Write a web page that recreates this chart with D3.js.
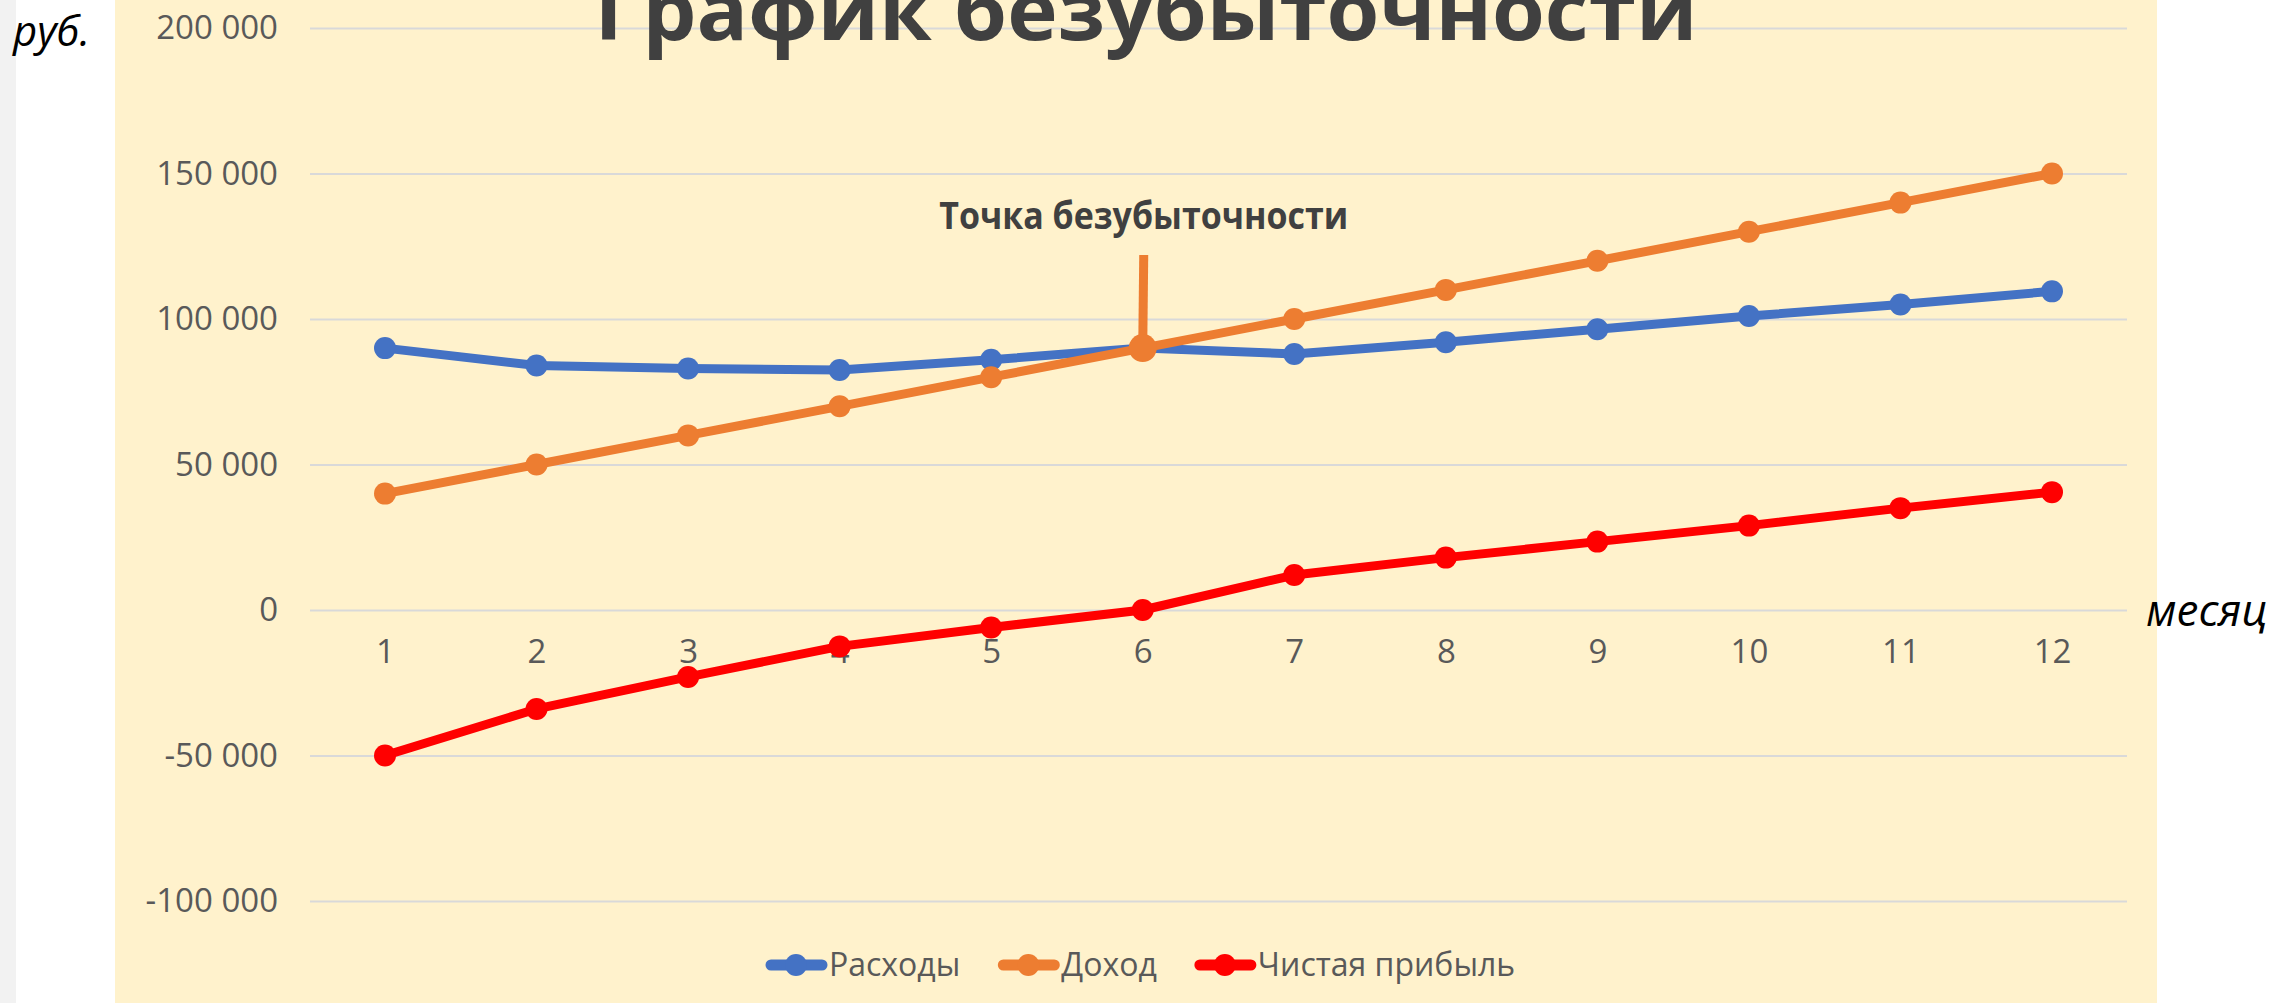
<!DOCTYPE html>
<html>
<head>
<meta charset="utf-8">
<script src="https://cdn.jsdelivr.net/npm/d3@7"></script>
<style>
  html, body { margin: 0; padding: 0; background: #ffffff; }
  svg { display: block; }
</style>
</head>
<body>
<script>
// данные
const months = [1, 2, 3, 4, 5, 6, 7, 8, 9, 10, 11, 12];
const expenses = [90000, 84000, 83000, 82500, 86000, 90000, 88000, 92000, 96500, 101000, 105000, 109500];
const income = [40000, 50000, 60000, 70000, 80000, 90000, 100000, 110000, 120000, 130000, 140000, 150000];
const profit = [-50000, -34000, -23000, -12500, -6000, 0, 12000, 18000, 23500, 29000, 35000, 40500];
const yTicks = [-100000, -50000, 0, 50000, 100000, 150000, 200000];
const seriesNames = ["Расходы", "Доход", "Чистая прибыль"];
const seriesColors = ["#4472c4", "#ed7d31", "#ff0000"];
const breakEvenMonth = 6;

const width = 2275;
const height = 1003;
const font = "'Open Sans', 'Noto Sans', sans-serif";

const svg = d3.select("body").append("svg")
    .attr("width", width)
    .attr("height", height);

// фон
svg.append("rect").attr("x", 0).attr("y", 0).attr("width", 16).attr("height", height).attr("fill", "#f2f2f2");
svg.append("rect").attr("x", 115).attr("y", 0).attr("width", 2157 - 115).attr("height", height).attr("fill", "#fff2cc");

const plotLeft = 310;
const plotRight = 2127;

const xScale = d3.scalePoint()
    .domain(months)
    .range([385, 2052]);

const yScale = d3.scaleLinear()
    .domain([-100000, 200000])
    .range([901, 28]);

const ru = d3.formatLocale({ decimal: ",", thousands: " ", grouping: [3], currency: ["", " руб."], minus: "-" });
const fmt = ru.format(",d");

// ось Y + сетка
const yAxis = svg.append("g")
    .attr("transform", "translate(" + plotLeft + ",0)")
    .call(d3.axisLeft(yScale)
        .tickValues(yTicks)
        .tickFormat(fmt)
        .tickSizeInner(-(plotRight - plotLeft))
        .tickSizeOuter(0)
        .tickPadding(32));
yAxis.select(".domain").remove();
yAxis.selectAll("line").attr("stroke", "#d9d9d9").attr("stroke-width", 2);
yAxis.selectAll("text")
    .attr("font-family", font)
    .attr("font-size", "33px")
    .attr("fill", "#595959");

// ось X
const xAxis = svg.append("g")
    .attr("transform", "translate(0," + yScale(0) + ")")
    .call(d3.axisBottom(xScale).tickSize(0).tickPadding(30));
xAxis.select(".domain").remove();
xAxis.selectAll("text")
    .attr("font-family", font)
    .attr("font-size", "33px")
    .attr("fill", "#595959");

// заголовок (в оригинале обрезан сверху)
svg.append("text")
    .attr("x", 1146)
    .attr("y", 40)
    .attr("text-anchor", "middle")
    .attr("font-family", font)
    .attr("font-weight", "bold")
    .attr("font-size", "82px")
    .attr("fill", "#404040")
    .attr("textLength", 1103)
    .attr("lengthAdjust", "spacingAndGlyphs")
    .text("График безубыточности");

// подписи осей
svg.append("text")
    .attr("x", 13)
    .attr("y", 46)
    .attr("font-family", font)
    .attr("font-style", "italic")
    .attr("font-size", "42px")
    .attr("fill", "#000000")
    .text("руб.");

svg.append("text")
    .attr("x", 2146)
    .attr("y", 626)
    .attr("font-family", font)
    .attr("font-style", "italic")
    .attr("font-size", "44px")
    .attr("fill", "#000000")
    .text("месяц");

// линии
const allSeries = [expenses, income, profit];
const line = d3.line()
    .x((d, i) => xScale(months[i]))
    .y(d => yScale(d));

// выноска точки безубыточности
const beIdx = months.indexOf(breakEvenMonth);
svg.append("line")
    .attr("x1", xScale(breakEvenMonth) + 1)
    .attr("y1", 255)
    .attr("x2", xScale(breakEvenMonth))
    .attr("y2", yScale(income[beIdx]))
    .attr("stroke", seriesColors[1])
    .attr("stroke-width", 9);

allSeries.forEach((vals, s) => {
    svg.append("path")
        .datum(vals)
        .attr("fill", "none")
        .attr("stroke", seriesColors[s])
        .attr("stroke-width", 9)
        .attr("stroke-linejoin", "round")
        .attr("d", line);
    svg.append("g").selectAll("circle")
        .data(vals)
        .join("circle")
        .attr("cx", (d, i) => xScale(months[i]))
        .attr("cy", d => yScale(d))
        .attr("r", (d, i) => (s === 1 && months[i] === breakEvenMonth) ? 14 : 11)
        .attr("fill", seriesColors[s]);
});

svg.append("text")
    .attr("x", xScale(breakEvenMonth) + 1)
    .attr("y", 229)
    .attr("text-anchor", "middle")
    .attr("font-family", font)
    .attr("font-weight", "bold")
    .attr("font-size", "38px")
    .attr("fill", "#404040")
    .attr("textLength", 409)
    .attr("lengthAdjust", "spacingAndGlyphs")
    .text("Точка безубыточности");

// легенда
const legend = svg.append("g").attr("transform", "translate(766,965)");
let lx = 0;
seriesNames.forEach((name, i) => {
    const g = legend.append("g").attr("transform", "translate(" + lx + ",0)");
    g.append("line")
        .attr("x1", 5).attr("x2", 56)
        .attr("y1", 0).attr("y2", 0)
        .attr("stroke", seriesColors[i])
        .attr("stroke-width", 11)
        .attr("stroke-linecap", "round");
    g.append("circle").attr("cx", 30).attr("cy", 0).attr("r", 11).attr("fill", seriesColors[i]);
    const t = g.append("text")
        .attr("x", 63)
        .attr("y", 0)
        .attr("dy", "0.35em")
        .attr("font-family", font)
        .attr("font-size", "32px")
        .attr("fill", "#595959")
        .text(name);
    lx += 63 + t.node().getComputedTextLength() + 38;
});
</script>
</body>
</html>
